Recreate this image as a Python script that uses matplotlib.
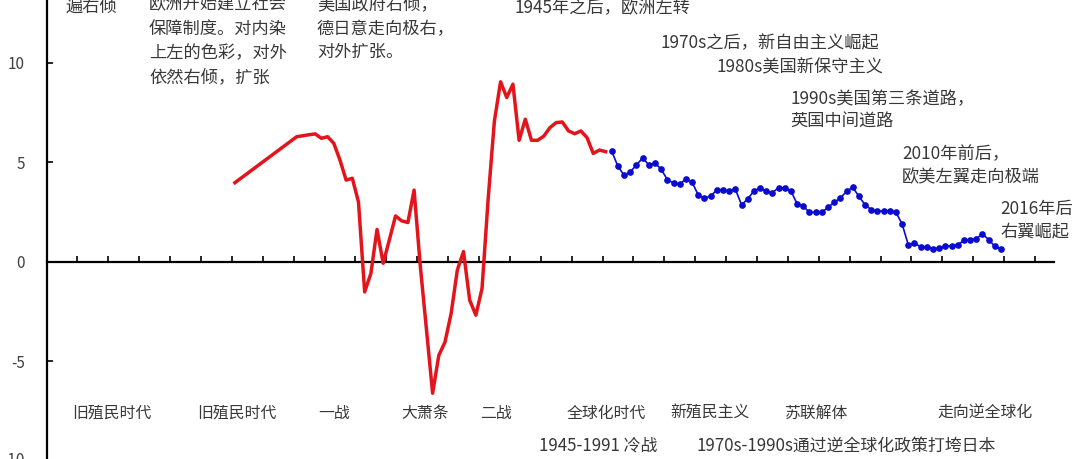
import matplotlib
matplotlib.use("Agg")
import matplotlib.pyplot as plt
import numpy as np

plt.rcParams['font.family'] = ['Noto Sans CJK SC', 'DejaVu Sans']

# red series (annual, 1889 then 1899-1949)
red_years = [1889] + list(range(1899, 1950))
red_vals = [3.97,
            6.28, 6.33, 6.38, 6.42, 6.20, 6.28, 5.95, 5.11, 4.10, 4.19,
            3.00, -1.52, -0.60, 1.62, -0.08, 1.10, 2.30, 2.05, 1.97, 3.60,
            -0.20, -3.40, -6.61, -4.71, -4.04, -2.60, -0.42, 0.51, -1.93, -2.69,
            -1.34, 3.20, 7.07, 9.04, 8.25, 8.92, 6.10, 7.16, 6.10, 6.10,
            6.31, 6.74, 6.99, 7.02, 6.57, 6.43, 6.57, 6.23, 5.44, 5.61,
            5.53]

# blue series 1950-2013
blue_years = list(range(1950, 2014))
blue_vals = [5.54, 4.79, 4.34, 4.52, 4.86, 5.21, 4.86, 4.96, 4.64, 4.12,
             3.95, 3.89, 4.17, 3.99, 3.35, 3.18, 3.30, 3.60, 3.62, 3.53,
             3.65, 2.86, 3.15, 3.55, 3.72, 3.53, 3.47, 3.72, 3.70, 3.55,
             2.91, 2.78, 2.48, 2.48, 2.48, 2.73, 2.98, 3.20, 3.53, 3.74,
             3.28, 2.86, 2.61, 2.56, 2.53, 2.56, 2.48, 1.89, 0.84, 0.92,
             0.75, 0.75, 0.64, 0.69, 0.77, 0.80, 0.85, 1.07, 1.11, 1.16,
             1.39, 1.11, 0.77, 0.64]

yticks = [-5, 0, 5, 10]

# annotations: (text, left px, center y px)
top_notes = [
    ("遍右倾", 66, 7),
    ("欧洲开始建立社会", 149, 4),
    ("保障制度。对内染", 149, 29),
    ("上左的色彩，对外", 149, 53),
    ("依然右倾，扩张", 149, 77),
    ("美国政府右倾，", 317, 4),
    ("德日意走向极右，", 317, 29),
    ("对外扩张。", 317, 52),
    ("1945年之后，欧洲左转", 515, 8),
    ("1970s之后，新自由主义崛起", 661, 43),
    ("1980s美国新保守主义", 716, 67),
    ("1990s美国第三条道路，", 790, 99),
    ("英国中间道路", 790, 122),
    ("2010年前后，", 902, 154),
    ("欧美左翼走向极端", 902, 177),
    ("2016年后", 1000, 209),
    ("右翼崛起", 1000, 231),
]
era_labels = [
    ("旧殖民时代", 72), ("旧殖民时代", 197), ("一战", 318), ("大萧条", 401),
    ("二战", 480), ("全球化时代", 567), ("新殖民主义", 670), ("苏联解体", 784),
    ("走向逆全球化", 937),
]
bottom_notes = [
    ("1945-1991 冷战", 539),
    ("1970s-1990s通过逆全球化政策打垮日本", 696),
]

W, H = 1080, 459
fig = plt.figure(figsize=(W / 100, H / 100), dpi=100)
ax = fig.add_axes([46.5 / W, 0, 1007 / W, 1])

ax.plot(red_years, red_vals, color='#e3141c', lw=2.5, solid_joinstyle='round', zorder=3)
ax.plot(blue_years, blue_vals, color='#0a0ad0', lw=1.2, marker='o', ms=3.8, zorder=4)

ax.set_xlim(1858.5, 2021.5)
ax.set_ylim(-9.915, 13.15)

for s in ['top', 'right']:
    ax.spines[s].set_visible(False)
ax.spines['bottom'].set_position(('data', 0))
ax.spines['bottom'].set_linewidth(1.6)
ax.spines['left'].set_linewidth(1.6)

ax.set_xticks(np.arange(1863.5, 2019, 5))
ax.tick_params(axis='x', direction='in', length=4, width=1.2, labelbottom=False)
ax.set_yticks(yticks)
ax.set_yticklabels([str(v) for v in yticks])
ax.tick_params(axis='y', direction='in', length=4, width=1.2, pad=15.5,
               labelsize=11, labelcolor='#404040')
ax.text(-21.5 / 1007, -10, "-10", transform=ax.get_yaxis_transform(),
        ha='right', va='center', fontsize=11, color='#404040', clip_on=False)

txt_color = '#383838'
for t, x, y in top_notes:
    fig.text(x / W, 1 - y / H, t, ha='left', va='center', fontsize=12.4, color=txt_color)
for t, x in era_labels:
    fig.text(x / W, 1 - 413 / H, t, ha='left', va='center', fontsize=11.4, color=txt_color)
for t, x in bottom_notes:
    fig.text(x / W, 1 - 446 / H, t, ha='left', va='center', fontsize=12.2, color=txt_color)

fig.savefig('out.png', dpi=100)
